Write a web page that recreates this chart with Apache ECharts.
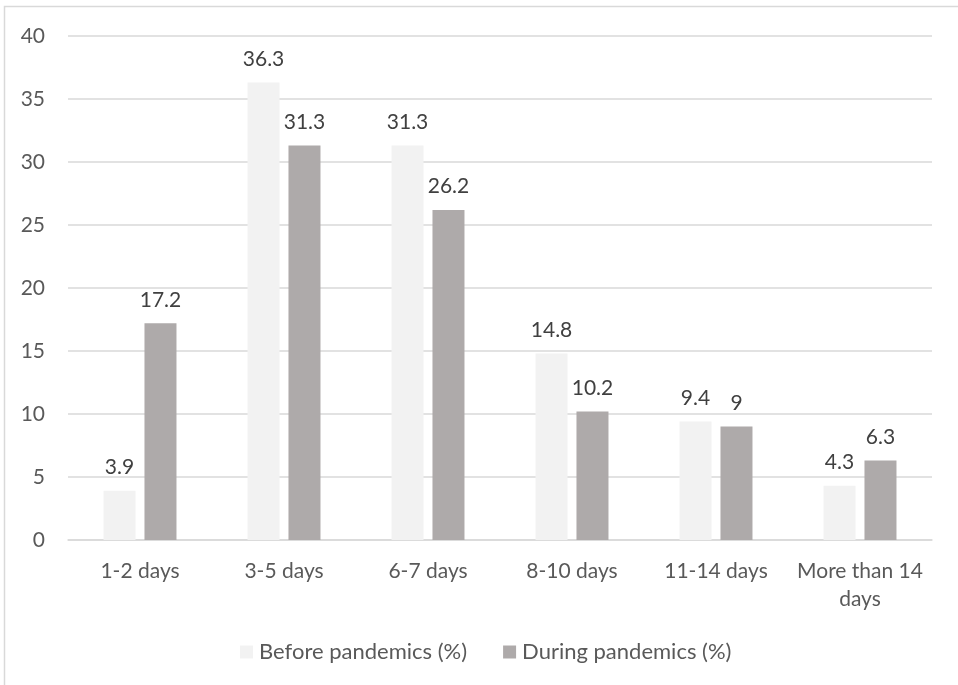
<!DOCTYPE html>
<html>
<head>
<meta charset="utf-8">
<script src="https://cdn.jsdelivr.net/npm/echarts@6/dist/echarts.min.js"></script>
<style>
  html, body { margin: 0; padding: 0; background: #fff; }
  #chart { width: 958px; height: 685px; }
</style>
</head>
<body>
<div id="chart"></div>
<script>
// Length of stay categories and shares (%) before / during the pandemic
const categories = ['1-2 days', '3-5 days', '6-7 days', '8-10 days', '11-14 days', 'More than 14\ndays'];
const beforeValues = [3.9, 36.3, 31.3, 14.8, 9.4, 4.3];
const duringValues = [17.2, 31.3, 26.2, 10.2, 9, 6.3];
const seriesNames = ['Before pandemics (%)', 'During pandemics (%)'];

const textColor = '#595959';
const fontFamily = 'Lato, "Open Sans", sans-serif';
const fontSize = 21;

const chart = echarts.init(document.getElementById('chart'), null, { renderer: 'canvas' });

const labelStyle = {
  show: true,
  position: 'top',
  distance: 13,
  color: '#404040',
  fontSize: fontSize,
  fontFamily: fontFamily
};

chart.setOption({
  animation: false,
  backgroundColor: '#fff',
  graphic: [{
    type: 'rect',
    shape: { x: 4.5, y: 6.5, width: 1000, height: 1000 },
    style: { fill: 'none', stroke: '#d9d9d9', lineWidth: 1.5 },
    silent: true
  }],
  grid: { left: 68, right: 26, top: 36, bottom: 145 },
  legend: {
    top: 636,
    left: 235,
    itemWidth: 13,
    itemHeight: 13,
    itemGap: 36,
    icon: 'rect',
    textStyle: { color: textColor, fontSize: 22, fontFamily: fontFamily, padding: [0, 0, 0, 1] },
    data: seriesNames
  },
  xAxis: {
    type: 'category',
    data: categories,
    axisLine: { lineStyle: { color: '#d9d9d9', width: 1.5 } },
    axisTick: { show: false },
    axisLabel: { color: textColor, fontSize: fontSize, fontFamily: fontFamily, margin: 17, lineHeight: 28, interval: 0 }
  },
  yAxis: {
    type: 'value',
    min: 0,
    max: 40,
    interval: 5,
    axisLine: { show: false },
    axisTick: { show: false },
    splitLine: { lineStyle: { color: '#d9d9d9', width: 1.5 } },
    axisLabel: { color: textColor, fontSize: fontSize, fontFamily: fontFamily, margin: 23 }
  },
  series: [
    {
      name: seriesNames[0],
      type: 'bar',
      data: beforeValues,
      barWidth: 32,
      barGap: '28%',
      itemStyle: { color: '#f2f2f2' },
      label: labelStyle
    },
    {
      name: seriesNames[1],
      type: 'bar',
      data: duringValues,
      barWidth: 32,
      itemStyle: { color: '#aeaaaa' },
      label: labelStyle
    }
  ]
});
</script>
</body>
</html>
